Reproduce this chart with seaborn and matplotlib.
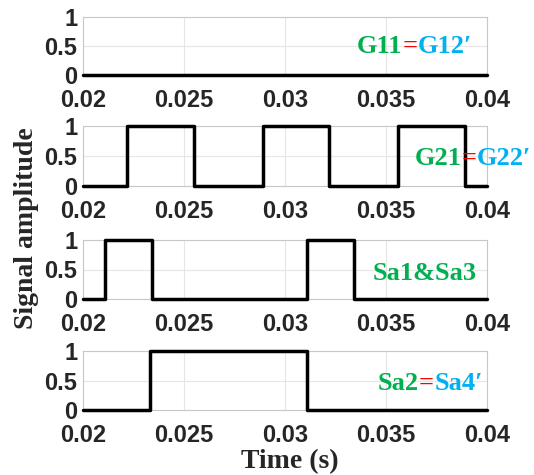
import numpy as np
import pandas as pd
import matplotlib
matplotlib.use("Agg")
import matplotlib.pyplot as plt
import seaborn as sns

# switching instants (s) and levels (steps-post)
g11_t = [0.02, 0.04]
g11_v = [0, 0]
g21_t = [0.02, 0.0222, 0.0255, 0.0289, 0.0322, 0.0356, 0.0389, 0.04]
g21_v = [0, 1, 0, 1, 0, 1, 0, 0]
sa13_t = [0.02, 0.0211, 0.0234, 0.0311, 0.0334, 0.04]
sa13_v = [0, 1, 0, 1, 0, 0]
sa24_t = [0.02, 0.0233, 0.0311, 0.04]
sa24_v = [0, 1, 0, 0]

x_ticks = [0.02, 0.025, 0.03, 0.035, 0.04]
x_labels = ["0.02", "0.025", "0.03", "0.035", "0.04"]
y_ticks = [0, 0.5, 1]
y_labels = ["0", "0.5", "1"]

# panel labels: list of (text, colour) pieces
green, red, blue = "#00b050", "#ff0000", "#00b0f0"
labels = [
    [("G11", green), ("=", red), ("G12\u2032", blue)],
    [("G21", green), ("=", red), ("G22\u2032", blue)],
    [("Sa1&Sa3", green)],
    [("Sa2", green), ("=", red), ("Sa4\u2032", blue)],
]
label_x = [0.678, 0.822, 0.718, 0.730]
label_y = [0.38, 0.35, 0.32, 0.34]

signals = [(g11_t, g11_v), (g21_t, g21_v), (sa13_t, sa13_v), (sa24_t, sa24_v)]

sns.set_style("whitegrid")
plt.rcParams["font.family"] = ["Liberation Sans", "DejaVu Sans"]

fig = plt.figure(figsize=(5.34, 4.75), dpi=100)
panel_pos = [(17, 75), (126, 186), (240, 299), (351, 410)]
left, width = 83 / 534, 404 / 534

for i, (t, v) in enumerate(signals):
    top, bot = panel_pos[i]
    ax = fig.add_axes([left, 1 - bot / 475, width, (bot - top) / 475])
    df = pd.DataFrame({"t": t, "v": v})
    sns.lineplot(data=df, x="t", y="v", drawstyle="steps-post", color="black",
                 linewidth=2.5, ax=ax, clip_on=False, zorder=5)
    ax.set_xlim(0.02, 0.04)
    ax.set_ylim(0, 1)
    ax.set_xticks(x_ticks)
    ax.set_xticklabels(x_labels, fontsize=17, fontweight="bold", color="#262626")
    ax.set_yticks(y_ticks)
    ax.set_yticklabels(y_labels, fontsize=17, fontweight="bold", color="#262626")
    ax.tick_params(axis="both", direction="in", length=3, color="#b0b0b0", pad=4)
    ax.tick_params(axis="x", pad=10)
    ax.grid(True, color="#e6e6e6", linewidth=0.8)
    for s in ax.spines.values():
        s.set_color("#c8c8c8")
        s.set_linewidth(0.8)
    ax.set_xlabel("")
    ax.set_ylabel("")

    # multi-coloured label, drawn on top of the trace
    xx = label_x[i]
    for txt, col in labels[i]:
        tt = ax.text(xx, label_y[i], txt, transform=ax.transAxes, color=col,
                     fontsize=19, fontweight="bold", family="Liberation Serif",
                     va="baseline", ha="left", clip_on=False, zorder=6)
        fig.canvas.draw()
        bb = tt.get_window_extent().transformed(ax.transAxes.inverted())
        xx = bb.x1

fig.text(0.05, 0.52, "Signal amplitude", rotation=90, va="center", ha="center",
         fontsize=20, fontweight="bold", family="Liberation Serif")
fig.text(0.543, 0.028, "Time (s)", va="center", ha="center",
         fontsize=20, fontweight="bold", family="Liberation Serif")

fig.savefig("out.png", dpi=100)
